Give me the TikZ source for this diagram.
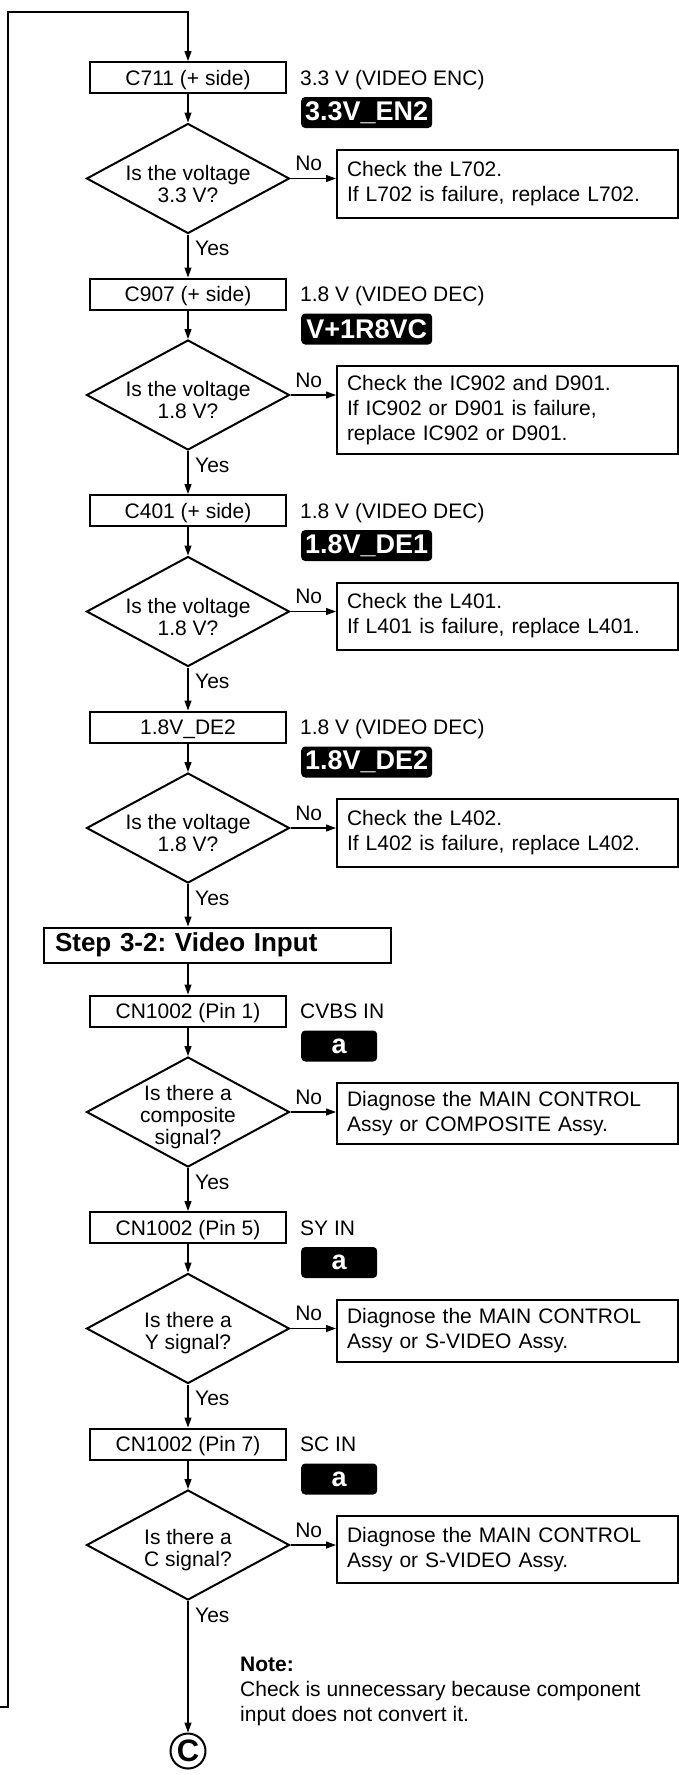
\documentclass[tikz,border=0pt]{standalone}
\usepackage{fontspec}
\setmainfont{Liberation Sans}
\usepackage{tikz}
\usetikzlibrary{arrows.meta,calc,positioning,shapes.geometric}
\frenchspacing

\tikzset{
  flow/.style={-{Triangle[length=10pt,width=7pt]},line width=1.2pt},
  tpbox/.style={draw,line width=2pt,minimum width=196pt,minimum height=31pt,inner sep=0pt,text height=17pt,text depth=2pt},
  decision/.style={draw,diamond,line width=2pt,minimum width=203pt,minimum height=110pt,inner sep=0pt},
  qtext/.style={align=center,inner sep=0pt,font=\fontsize{21}{22}\selectfont},
  fixbox/.style={draw,line width=2pt,anchor=north west,text width=321pt,inner xsep=10pt,align=left},
  badge/.style={fill=black,text=white,rounded corners=4pt,anchor=west,minimum height=31pt,inner sep=0pt,font=\fontsize{27}{27}\selectfont\bfseries},
  sidelbl/.style={anchor=base west,inner sep=0pt},
  yeslbl/.style={anchor=west,inner sep=0pt},
  stepbox/.style={draw,line width=2pt,anchor=west,minimum height=35pt,text width=325pt,inner xsep=11pt,align=left,font=\fontsize{26}{26}\selectfont\bfseries}
}

\begin{document}
\begin{tikzpicture}[x=1pt,y=-1pt,font=\fontsize{21}{25}\selectfont]
  \useasboundingbox (0,0) rectangle (678,1775);
  \foreach \i/\y/\tp/\volt/\tg/\tw/\q/\fix/\h in {
    1/77.5/{C711 (+ side)}/{3.3 V (VIDEO ENC)}/{3.3V\_EN2}/131/{Is the voltage\\3.3 V?}/{Check the L702.\\If L702 is failure, replace L702.}/68,
    2/294/{C907 (+ side)}/{1.8 V (VIDEO DEC)}/{V+1R8VC}/131/{Is the voltage\\1.8 V?}/{Check the IC902 and D901.\\If IC902 or D901 is failure,\\replace IC902 or D901.}/88,
    3/510.5/{C401 (+ side)}/{1.8 V (VIDEO DEC)}/{1.8V\_DE1}/131/{Is the voltage\\1.8 V?}/{Check the L401.\\If L401 is failure, replace L401.}/67,
    4/727/{1.8V\_DE2}/{1.8 V (VIDEO DEC)}/{1.8V\_DE2}/131/{Is the voltage\\1.8 V?}/{Check the L402.\\If L402 is failure, replace L402.}/68,
    5/1011/{CN1002 (Pin 1)}/{CVBS IN}/{a}/76/{Is there a\\composite\\signal?}/{Diagnose the MAIN CONTROL\\Assy or COMPOSITE Assy.}/61,
    6/1227.5/{CN1002 (Pin 5)}/{SY IN}/{a}/76/{Is there a\\Y signal?}/{Diagnose the MAIN CONTROL\\Assy or S-VIDEO Assy.}/62,
    7/1444/{CN1002 (Pin 7)}/{SC IN}/{a}/76/{Is there a\\C signal?}/{Diagnose the MAIN CONTROL\\Assy or S-VIDEO Assy.}/67}{
    \node[tpbox] (b\i) at (188,\y) {\tp};
    \node[sidelbl] (v\i) at (300,\y+7.5) {\volt};
    \node[badge,minimum width=\tw] (t\i) at (301,\y+35) {\tg};
    \node[decision] (d\i) at (188,\y+101) {};
    \node[qtext] (q\i) at ([yshift=-5pt]d\i.center) {\q};
    \node[fixbox,minimum height=\h] (k\i) at (336,\y+71) {\fix};
    \draw[flow] (b\i) -- (d\i);
    \draw[flow] (d\i) -- (d\i -| k\i.west) node[pos=.4,above=7pt,inner sep=0pt] (n\i) {No};
  }
  \foreach \a/\b in {1/2,2/3,3/4,5/6,6/7}{
    \draw[flow] (d\a) -- (b\b);
    \node[yeslbl] (y\a) at ([xshift=7pt,yshift=-14pt]d\a.south) {Yes};
  }
  \node[stepbox] (step) at (43,945) {Step 3-2: Video Input};
  \draw[flow] (d4) -- (d4 |- step.north);
  \node[yeslbl] (y4) at ([xshift=7pt,yshift=-14pt]d4.south) {Yes};
  \draw[flow] (b5 |- step.south) -- (b5);
  \node[draw,circle,line width=2pt,minimum size=35pt,inner sep=0pt,font=\fontsize{31}{31}\selectfont\bfseries] (cC) at (188,1751) {C};
  \draw[flow] (d7) -- (cC);
  \node[yeslbl] (y7) at ([xshift=7pt,yshift=-14pt]d7.south) {Yes};
  \node[anchor=north west,align=left,inner sep=0pt] (note) at (240,1657) {{\bfseries Note:}\\Check is unnecessary because component\\input does not convert it.};
  \coordinate (back) at (0,1707);
  \draw[flow] (back) -- (8,1707) -- (8,12) -| (b1.north);
\end{tikzpicture}
\end{document}
